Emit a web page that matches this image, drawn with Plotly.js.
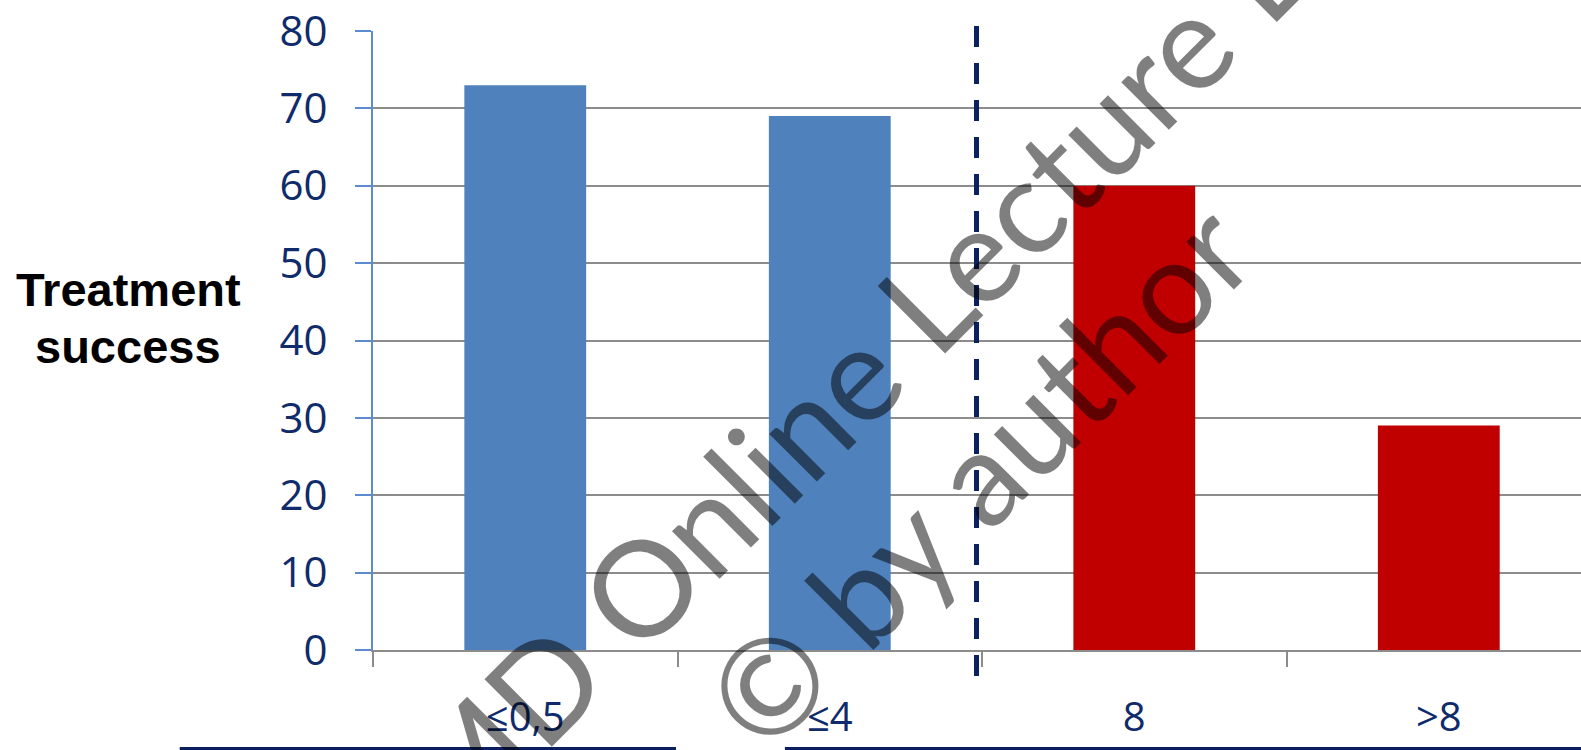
<!DOCTYPE html>
<html>
<head>
<meta charset="utf-8">
<script src="https://cdn.plot.ly/plotly-3.0.1.min.js"></script>
<style>html,body{margin:0;padding:0;background:#fff;}#chart{width:1581px;height:750px;}</style>
</head>
<body>
<div id="chart"></div>
<script>
const categories = ['≤0,5', '≤4', '8', '>8'];
const successValues = [73, 69, 60, 29];
const groupOf = ['low', 'low', 'high', 'high'];
const yTicks = [0, 10, 20, 30, 40, 50, 60, 70, 80];
const yTitleLines = ['Treatment', 'success'];
const watermarkLines = ['MD Online Lecture L', '© by author'];

const BLUE = '#4F81BD';
const RED = '#C00000';
const NAVY = '#0F2B6B';
const GRID = '#8C8C8C';

const trace = {
  type: 'bar',
  x: categories,
  y: successValues,
  width: 0.4,
  marker: { color: groupOf.map(g => g === 'low' ? BLUE : RED), line: { width: 0 } },
  hoverinfo: 'x+y'
};

const titleFont = { family: 'Liberation Sans, Arial, sans-serif', size: 47, color: '#000', weight: 'bold' };
const wmFont = { family: 'Lato, Open Sans, sans-serif', size: 133, color: 'rgba(0,0,0,0.5)' };

const annotations = [
  { text: yTitleLines[0], xref: 'paper', yref: 'paper', x: -0.2028, y: 0.5816, xanchor: 'center', yanchor: 'middle', showarrow: false, font: titleFont },
  { text: yTitleLines[1], xref: 'paper', yref: 'paper', x: -0.2028, y: 0.4895, xanchor: 'center', yanchor: 'middle', showarrow: false, font: titleFont },
  { text: watermarkLines[0], xref: 'paper', yref: 'paper', x: (849 - 373) / 1208, y: (650 - 376) / 619, xanchor: 'center', yanchor: 'middle', showarrow: false,
    textangle: -45, font: wmFont },
  { text: watermarkLines[1], xref: 'paper', yref: 'paper', x: (976 - 373) / 1208, y: (650 - 474) / 619, xanchor: 'center', yanchor: 'middle', showarrow: false,
    textangle: -45, font: wmFont }
];

const layout = {
  width: 1581,
  height: 750,
  margin: { l: 373, r: 0, t: 31, b: 100, pad: 0 },
  paper_bgcolor: '#fff',
  plot_bgcolor: '#fff',
  showlegend: false,
  xaxis: {
    type: 'category',
    range: [-0.5, 3.467],
    showline: true, linecolor: GRID, linewidth: 2,
    ticks: 'outside', tickson: 'boundaries', ticklen: 15, tickwidth: 2, tickcolor: GRID,
    showgrid: false, zeroline: false,
    tickfont: { family: 'Open Sans, sans-serif', size: 40, color: NAVY },
    ticklabelstandoff: 31
  },
  yaxis: {
    range: [0, 80],
    tickmode: 'array', tickvals: yTicks, ticktext: yTicks.map(String),
    showline: true, linecolor: '#5B8BD0', linewidth: 2,
    ticks: 'outside', ticklen: 16, tickwidth: 2, tickcolor: '#5B8BD0',
    showgrid: true, gridcolor: GRID, gridwidth: 2,
    zeroline: false,
    tickfont: { family: 'Open Sans, sans-serif', size: 42, color: NAVY },
    ticklabelstandoff: 19
  },
  shapes: [
    { type: 'line', xref: 'paper', yref: 'paper', x0: 0.4996, x1: 0.4996, y0: 1.008, y1: -0.0517,
      line: { color: '#0A215F', width: 5, dash: '21px,16px' } },
    { type: 'line', xref: 'paper', yref: 'paper', x0: -0.16, x1: 0.2508, y0: -0.159, y1: -0.159,
      line: { color: '#0A1F5C', width: 3 } },
    { type: 'line', xref: 'paper', yref: 'paper', x0: 0.341, x1: 1.01, y0: -0.159, y1: -0.159,
      line: { color: '#0A1F5C', width: 3 } }
  ],
  annotations: annotations
};

Plotly.newPlot('chart', [trace], layout, { staticPlot: true, displayModeBar: false });
</script>
</body>
</html>
